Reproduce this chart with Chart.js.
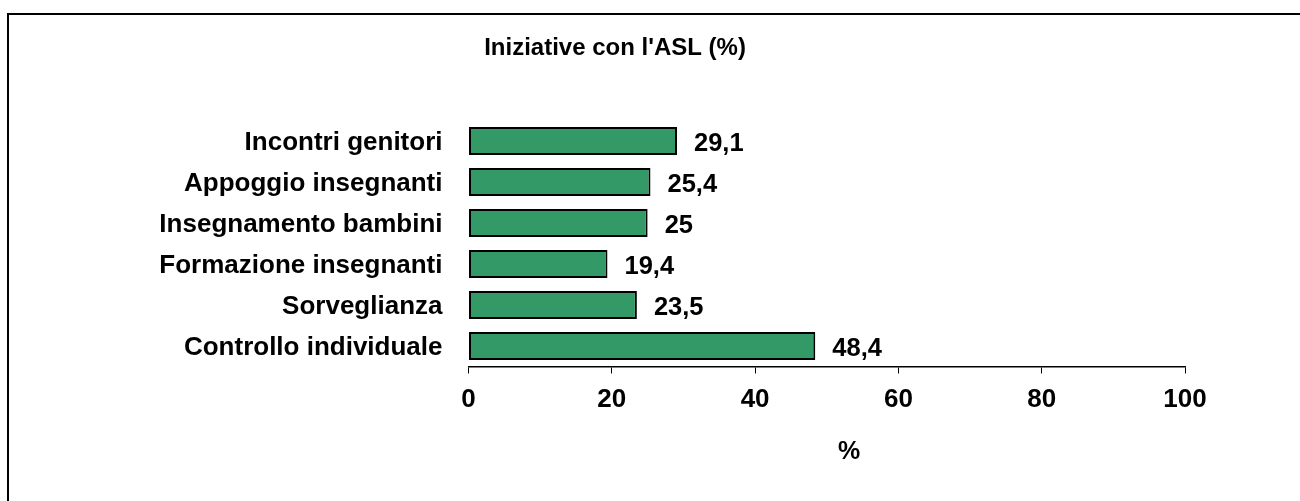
<!DOCTYPE html>
<html>
<head>
<meta charset="utf-8">
<script src="https://cdn.jsdelivr.net/npm/chart.js@4.4.1/dist/chart.umd.min.js"></script>
<style>
html,body{margin:0;padding:0;background:#fff;overflow:hidden;}
#wrap{position:relative;width:1300px;height:501px;}
</style>
</head>
<body>
<div id="wrap"><canvas id="c" width="1300" height="501"></canvas></div>
<script>
const chartTitle = "Iniziative con l'ASL (%)";
const axisTitle = "%";
const categories = ["Incontri genitori","Appoggio insegnanti","Insegnamento bambini","Formazione insegnanti","Sorveglianza","Controllo individuale"];
const values = [29.1, 25.4, 25, 19.4, 23.5, 48.4];
const xTicks = [0, 20, 40, 60, 80, 100];

const FONT = "'Liberation Sans', Arial, sans-serif";

const extras = {
  id: 'extras',
  beforeDraw(chart) {
    const ctx = chart.ctx;
    ctx.save();
    ctx.fillStyle = '#fff';
    ctx.fillRect(0, 0, chart.width, chart.height);
    ctx.strokeStyle = '#000';
    ctx.lineWidth = 2;
    ctx.strokeRect(8, 14, 1320, 520);
    ctx.restore();
  },
  afterDraw(chart) {
    const ctx = chart.ctx;
    ctx.save();
    ctx.fillStyle = '#000';
    ctx.textAlign = 'center';
    ctx.textBaseline = 'middle';
    ctx.font = "bold 24px " + FONT;
    ctx.fillText(chartTitle, 615, 48.5);
    ctx.font = "bold 25px " + FONT;
    ctx.fillText(axisTitle, 849, 452);
    // data labels
    const meta = chart.getDatasetMeta(0);
    ctx.font = "bold 25.5px " + FONT;
    ctx.textAlign = 'left';
    meta.data.forEach((bar, i) => {
      const v = values[i];
      const txt = String(v).replace('.', ',');
      ctx.fillText(txt, bar.x + 17, bar.y + 3);
    });
    ctx.restore();
  }
};

new Chart(document.getElementById('c'), {
  type: 'bar',
  data: {
    labels: categories,
    datasets: [{
      data: values,
      backgroundColor: '#339966',
      borderColor: '#000',
      borderWidth: 2,
      borderSkipped: false,
      barPercentage: 0.68,
      categoryPercentage: 1
    }]
  },
  options: {
    indexAxis: 'y',
    responsive: false,
    animation: false,
    devicePixelRatio: 1,
    layout: { padding: { top: 120.5, right: 115, bottom: 0, left: 0 } },
    plugins: { legend: { display: false }, title: { display: false }, tooltip: { enabled: false } },
    scales: {
      x: {
        min: 0, max: 100,
        afterBuildTicks(scale) { scale.ticks = xTicks.map(v => ({ value: v })); },
        afterFit(scale) { scale.height = 134.5; },
        grid: { display: true, drawOnChartArea: false, drawTicks: true, tickLength: 7, color: '#000', tickColor: '#000', lineWidth: 1 },
        border: { display: true, color: '#000', width: 1.5 },
        ticks: { color: '#000', font: { family: FONT, size: 26, weight: 'bold' }, padding: 11, maxRotation: 0 }
      },
      y: {
        afterFit(scale) { scale.width = 468.5; },
        grid: { display: false },
        border: { display: false },
        ticks: { color: '#000', font: { family: FONT, size: 26, weight: 'bold' }, padding: 18, labelOffset: 2 }
      }
    }
  },
  plugins: [extras]
});
</script>
</body>
</html>
